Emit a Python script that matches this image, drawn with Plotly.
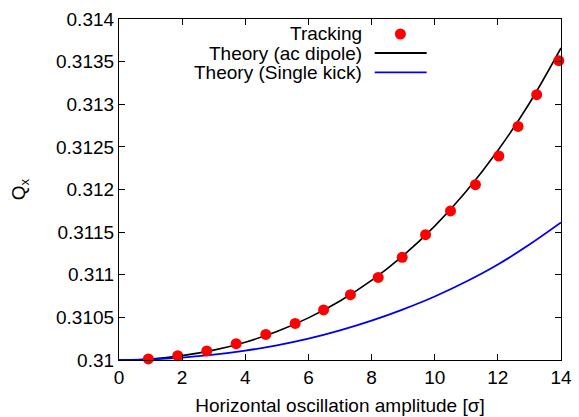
import plotly.graph_objects as go

# Tracking data
track_x = [0.93, 1.86, 2.78, 3.71, 4.65, 5.58, 6.48, 7.33, 8.21, 8.97, 9.71, 10.5, 11.29, 12.03, 12.64, 13.23, 13.93]
track_y = [0.310012, 0.31005, 0.310106, 0.310191, 0.3103, 0.310429, 0.310587, 0.310766, 0.310969,
           0.311204, 0.31147, 0.311748, 0.312056, 0.312393, 0.31274, 0.313112, 0.313511]

# Theory curves (at integer amplitudes)
theory_x = [0, 1, 2, 3, 4, 5, 6, 7, 8, 9, 10, 11, 12, 13, 14]
ac_dipole_y = [0.31, 0.3100126, 0.310051, 0.310116, 0.310209, 0.310334, 0.310494, 0.310692, 0.310933,
               0.311224, 0.31157, 0.311979, 0.312457, 0.313012, 0.31366]
single_kick_y = [0.31, 0.310007, 0.310028, 0.310062, 0.31011, 0.310172, 0.31025, 0.310347, 0.310461,
                 0.310594, 0.310745, 0.31092, 0.31112, 0.311355, 0.311614]

x_ticks = [0, 2, 4, 6, 8, 10, 12, 14]
y_ticks = [0.31, 0.3105, 0.311, 0.3115, 0.312, 0.3125, 0.313, 0.3135, 0.314]
y_tick_text = ["0.31", "0.3105", "0.311", "0.3115", "0.312", "0.3125", "0.313", "0.3135", "0.314"]
legend_labels = ["Tracking", "Theory (ac dipole)", "Theory (Single kick)"]

FONT = "Liberation Sans, Arial, Helvetica, sans-serif"
FS = 19
W, H = 579, 417
L, R, T, B = 119, 17.5, 19.3, 56.7
pw, ph = W - L - R, H - T - B

fig = go.Figure()
fig.add_trace(go.Scatter(x=theory_x, y=ac_dipole_y, mode="lines", line=dict(color="black", width=1.6, shape="spline"),
                         name=legend_labels[1], showlegend=False))
fig.add_trace(go.Scatter(x=theory_x, y=single_kick_y, mode="lines", line=dict(color="#0000ee", width=1.8, shape="spline"),
                         name=legend_labels[2], showlegend=False))
fig.add_trace(go.Scatter(x=track_x, y=track_y, mode="markers", marker=dict(color="#ff0000", size=11, line=dict(width=0)),
                         name=legend_labels[0], showlegend=False, cliponaxis=False))

def px2paper(px, py):
    return (px - L) / pw, (H - B - py) / ph

# custom gnuplot-style legend (text left, sample right)
rows_y = [34.3, 53.3, 72.7]
for lab, ry in zip(legend_labels, rows_y):
    xp, yp = px2paper(364, ry)
    fig.add_annotation(x=xp, y=yp, xref="paper", yref="paper", text=lab, showarrow=False,
                       xanchor="right", yanchor="middle", font=dict(size=FS, color="black", family=FONT))
shapes = []
x0, _ = px2paper(375, 0)
x1, _ = px2paper(427, 0)
for ry, col in [(rows_y[1], "black"), (rows_y[2], "#0000ee")]:
    _, yp = px2paper(0, ry)
    shapes.append(dict(type="line", xref="paper", yref="paper", x0=x0, x1=x1, y0=yp, y1=yp,
                       line=dict(color=col, width=1.8)))
cx, cy = px2paper(400.7, rows_y[0])
rx, ry_ = 5.5 / pw, 5.5 / ph
shapes.append(dict(type="circle", xref="paper", yref="paper", x0=cx - rx, x1=cx + rx, y0=cy - ry_, y1=cy + ry_,
                   fillcolor="#ff0000", line=dict(width=0)))
fig.update_layout(shapes=shapes)

axis_common = dict(showgrid=False, zeroline=False, showline=True, linecolor="black", linewidth=1.2,
                   mirror="ticks", ticks="inside", ticklen=6, tickcolor="black", tickwidth=1,
                   tickfont=dict(size=FS, color="black", family=FONT))
fig.update_xaxes(range=[0, 14], tickvals=x_ticks, ticktext=[str(v) for v in x_ticks],
                 title=dict(text="Horizontal oscillation amplitude [σ]", font=dict(size=FS, color="black", family=FONT), standoff=11),
                 **axis_common)
fig.update_yaxes(range=[0.31, 0.314], tickvals=y_ticks, ticktext=y_tick_text,
                 title=dict(text="Q<sub>x</sub>", font=dict(size=FS, color="black", family=FONT), standoff=25),
                 **axis_common)
fig.update_layout(width=W, height=H, margin=dict(l=L, r=R, t=T, b=B, autoexpand=False),
                  plot_bgcolor="white", paper_bgcolor="white", font=dict(family=FONT, color="black"))
fig.write_html("out.html")
